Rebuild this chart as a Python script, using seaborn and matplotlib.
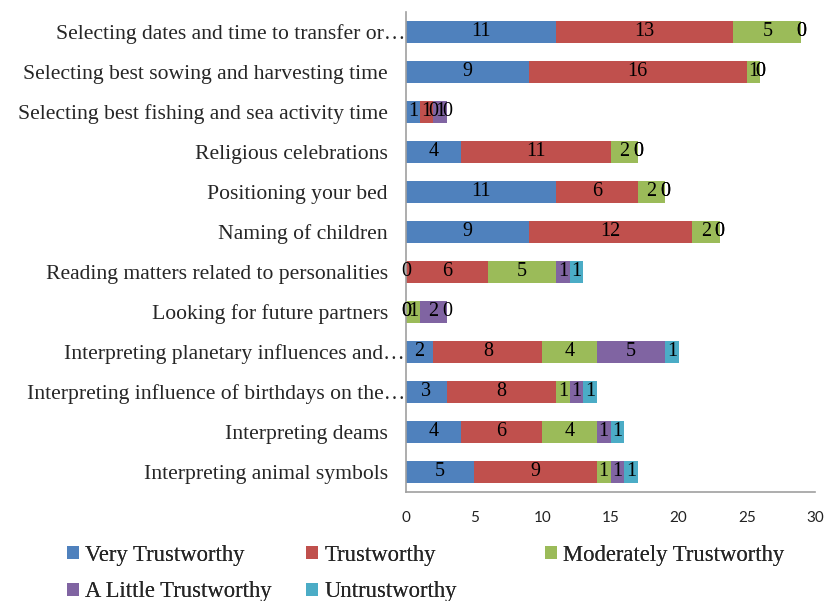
import matplotlib
matplotlib.use("Agg")
import matplotlib.pyplot as plt
from matplotlib.patches import Patch
from matplotlib.transforms import ScaledTranslation
import numpy as np
import pandas as pd
import seaborn as sns

categories = [
    "Selecting dates and time to transfer or\u2026",
    "Selecting best sowing and harvesting time",
    "Selecting best fishing and sea activity time",
    "Religious celebrations",
    "Positioning your bed",
    "Naming of children",
    "Reading matters related to personalities",
    "Looking for future partners",
    "Interpreting planetary influences and\u2026",
    "Interpreting influence of birthdays on the\u2026",
    "Interpreting deams",
    "Interpreting animal symbols",
]

series_names = ["Very Trustworthy", "Trustworthy", "Moderately Trustworthy",
                "A Little Trustworthy", "Untrustworthy"]
very_trustworthy = [11, 9, 1, 4, 11, 9, 0, 0, 2, 3, 4, 5]
trustworthy = [13, 16, 1, 11, 6, 12, 6, 0, 8, 8, 6, 9]
moderately_trustworthy = [5, 1, 0, 2, 2, 2, 5, 1, 4, 1, 4, 1]
a_little_trustworthy = [0, 0, 1, 0, 0, 0, 1, 2, 5, 1, 1, 1]
untrustworthy = [0, 0, 0, 0, 0, 0, 1, 0, 1, 1, 1, 1]

colors = ["#4F81BD", "#C0504D", "#9BBB59", "#8064A2", "#4BACC6"]
x_ticks = [0, 5, 10, 15, 20, 25, 30]

sns.set_style("white")
plt.rcParams["font.family"] = ["Liberation Serif", "DejaVu Serif"]

values = np.array([very_trustworthy, trustworthy, moderately_trustworthy,
                   a_little_trustworthy, untrustworthy])
cum = values.cumsum(axis=0)
starts = cum - values

fig = plt.figure(figsize=(8.24, 6.01), dpi=100)
ax = fig.add_axes([406 / 824, 109 / 601, 409 / 824, 480 / 601])

# stacked bars: draw cumulative totals from the last series back to the first
for i in range(len(series_names) - 1, -1, -1):
    df = pd.DataFrame({"category": categories, "value": cum[i]})
    sns.barplot(data=df, x="value", y="category", orient="h", color=colors[i],
                width=0.55, linewidth=0, saturation=1, ax=ax, order=categories)

# segment value labels
for i in range(len(series_names)):
    for j in range(len(categories)):
        v = values[i, j]
        xc = starts[i, j] + v / 2.0
        ax.text(xc, j, str(v), ha="center", va="center", fontsize=14.5,
                color="black", family=["Liberation Serif"])

ax.set_xlim(0, 30)
ax.set_ylim(len(categories) - 0.5, -0.5)
ax.set_xticks(x_ticks)
ax.set_xticklabels([str(t) for t in x_ticks], family=["Lato", "DejaVu Sans"],
                   fontsize=11, color="#222222")
ax.set_xlabel("")
ax.set_ylabel("")
ax.tick_params(axis="x", length=0, pad=14)
ax.tick_params(axis="y", length=0, pad=13, labelsize=15.6)
shift = ScaledTranslation(17 / 100, 0, fig.dpi_scale_trans)
for lbl in ax.get_yticklabels():
    lbl.set_family(["Liberation Serif"])
    # truncated labels run up to the axis line
    if lbl.get_text().endswith("\u2026"):
        lbl.set_transform(lbl.get_transform() + shift)
for s in ["top", "right"]:
    ax.spines[s].set_visible(False)
for s in ["left", "bottom"]:
    ax.spines[s].set_color("#A0A0A0")
    ax.spines[s].set_linewidth(1.2)

# legend entries placed in a 3-column grid
handles = [Patch(facecolor=c, edgecolor="none") for c in colors]
slots = [(67, 555), (306, 555), (545, 555), (67, 592), (306, 592)]
for k, (xpix, ypix) in enumerate(slots):
    leg = fig.legend([handles[k]], [series_names[k]],
                     loc="center left", bbox_to_anchor=(xpix / 824, 1 - ypix / 601),
                     frameon=False, borderpad=0, borderaxespad=0,
                     handlelength=0.55, handleheight=0.55, handletextpad=0.25,
                     prop={"family": "Liberation Serif", "size": 16.3})
    fig.add_artist(leg)

fig.savefig("out.png", dpi=100)
